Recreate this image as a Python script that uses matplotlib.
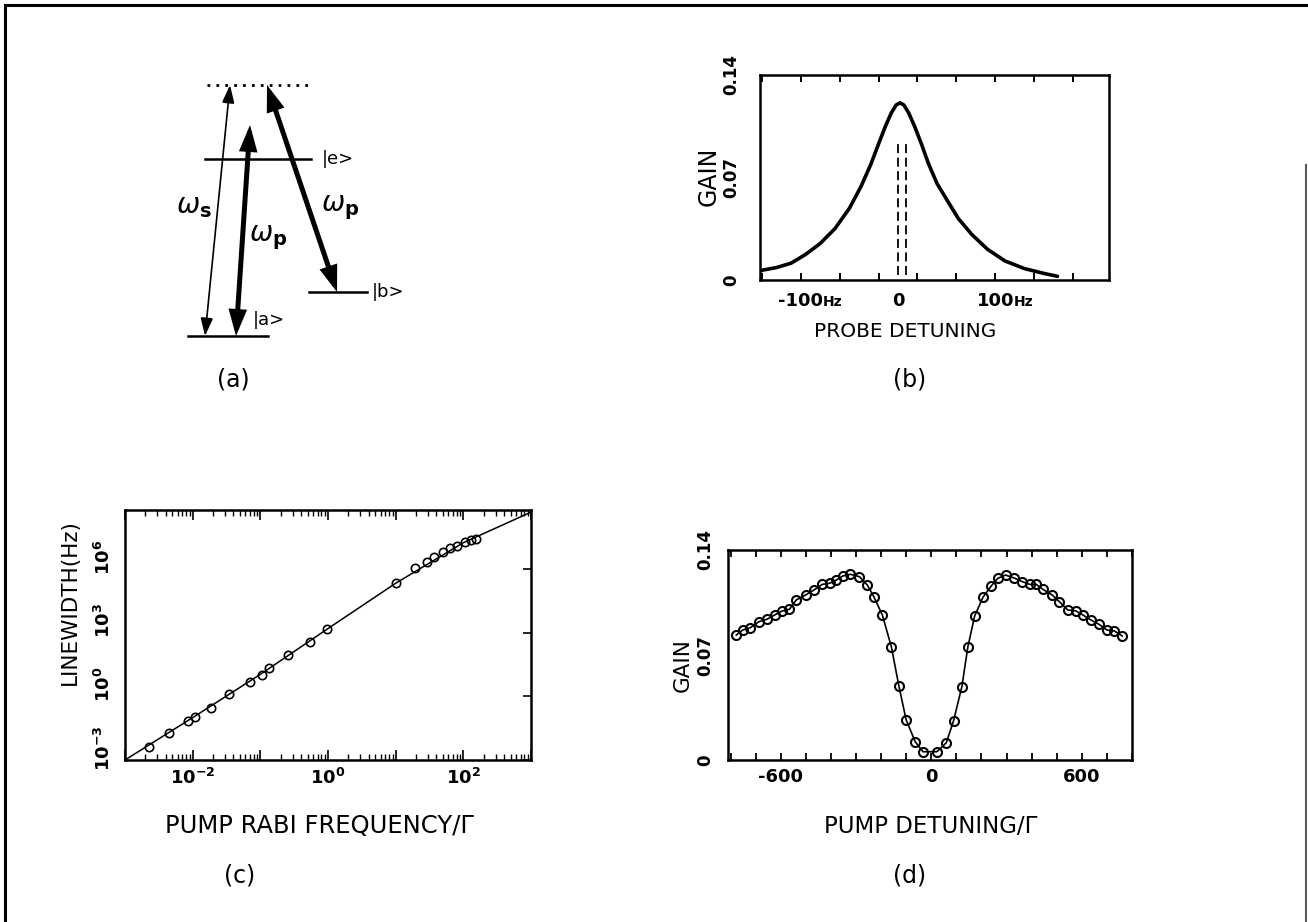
import matplotlib
matplotlib.use("Agg")
import matplotlib.pyplot as plt
from matplotlib.patches import FancyArrowPatch
from matplotlib.ticker import FixedLocator, LogLocator, NullFormatter, FuncFormatter
import matplotlib.transforms as mtransforms

plt.rcParams['font.family'] = ['DejaVu Sans']
plt.rcParams['mathtext.fontset'] = 'dejavusans'

W, H, DPI = 1308, 922, 100

# ---------------- panel (b) data ----------------
probe_detuning = [-142, -125, -110, -95, -80, -65, -50, -38, -28, -20, -13, -7, -2, 2,
                  6, 11, 17, 24, 31, 40, 50, 62, 76, 92, 110, 130, 150, 164]
probe_gain = [0.0064, 0.0085, 0.0115, 0.0175, 0.025, 0.035, 0.049, 0.064, 0.079, 0.093,
              0.105, 0.114, 0.1195, 0.121, 0.1195, 0.114, 0.105, 0.093, 0.080, 0.066,
              0.055, 0.042, 0.031, 0.021, 0.013, 0.0078, 0.0045, 0.0025]
dash_detuning = [-0.3, 7.9]
dash_gain_range = [0.0034, 0.094]
b_xtick_values = [-100, 0, 100]
b_xtick_numbers = ['-100', '0', '100']
b_xtick_units = ['Hz', '', 'Hz']
gain_ticks = [0, 0.07, 0.14]
gain_tick_labels = ['0', '0.07', '0.14']

# ---------------- panel (c) data ----------------
rabi_freq = [2.3e-3, 4.5e-3, 8.5e-3, 1.07e-2, 1.86e-2, 3.47e-2, 7.1e-2, 0.107, 0.135,
             0.257, 0.537, 0.977, 10.0, 19.5, 28.8, 37.2, 50.1, 64.6, 81.3, 104.7,
             128.8, 151.4]
linewidth_hz = [4.3e-3, 1.8e-2, 6.9e-2, 0.11, 0.275, 1.26, 4.8, 10, 21, 89, 370, 1480,
                2.3e5, 1.1e6, 2.2e6, 3.9e6, 6.8e6, 1.0e7, 1.3e7, 2.0e7, 2.4e7, 2.6e7]
fit_rabi = [1e-3, 1e-2, 1e-1, 1, 10, 100, 1000]
fit_linewidth = [1e-3, 0.1, 11, 1600, 2.2e5, 1.8e7, 5e8]
c_ytick_values = [1e-3, 1, 1e3, 1e6]
c_ytick_labels = [r'$\mathbf{10^{-3}}$', r'$\mathbf{10^{0}}$', r'$\mathbf{10^{3}}$', r'$\mathbf{10^{6}}$']
c_xtick_values = [1e-2, 1, 1e2]
c_xtick_labels = [r'$\mathbf{10^{-2}}$', r'$\mathbf{10^{0}}$', r'$\mathbf{10^{2}}$']

# ---------------- panel (d) data ----------------
pump_detuning = [-777, -751, -721, -687, -655, -624, -595, -565, -538, -501, -468, -434,
                 -405, -378, -352, -322, -286, -255, -229, -195, -159, -129, -100, -64,
                 -33, 22, 60, 89, 122, 146, 173, 206, 239, 265, 296, 328, 363, 392, 418,
                 445, 482, 511, 544, 575, 604, 637, 668, 700, 730, 761]
pump_gain = [0.0833, 0.0867, 0.0882, 0.0922, 0.0938, 0.0967, 0.0993, 0.1005, 0.1067,
             0.110, 0.1133, 0.1171, 0.1178, 0.120, 0.1227, 0.1238, 0.1222, 0.1167,
             0.1089, 0.0967, 0.0755, 0.0493, 0.0267, 0.0122, 0.0055, 0.0055, 0.0115,
             0.0262, 0.0489, 0.0755, 0.096, 0.1085, 0.116, 0.1211, 0.1233, 0.1215,
             0.1189, 0.1171, 0.1171, 0.1138, 0.110, 0.1055, 0.100, 0.0995, 0.0967,
             0.0933, 0.0905, 0.0867, 0.086, 0.0827]
d_xtick_values = [-600, 0, 600]
d_xtick_labels = ['-600', '0', '600']

# ---------------- panel (a) schematic ----------------
level_names = ['virtual', 'e', 'b', 'a']
level_y = [85, 159, 292, 336]
level_x0 = [207, 205, 309, 188]
level_x1 = [308, 311, 367, 268]
level_labels = ['', '|e>', '|b>', '|a>']
level_label_xy = [(0, 0), (322, 159), (372, 292), (253, 320)]

fig = plt.figure(figsize=(W / DPI, H / DPI), dpi=DPI)


def rect(x0, y0, x1, y1):
    return [x0 / W, 1 - y1 / H, (x1 - x0) / W, (y1 - y0) / H]


def fx(x):
    return x / W


def fy(y):
    return 1 - y / H


bg = fig.add_axes([0, 0, 1, 1])
bg.set_xlim(0, W)
bg.set_ylim(H, 0)
bg.axis('off')

# outer frame
bg.plot([5, 5], [5, 922], color='k', lw=2.2)
bg.plot([5, 1308], [5, 5], color='k', lw=2.2)
bg.plot([1306, 1306], [165, 922], color='0.35', lw=1.5)

# energy levels
for name, y, x0, x1, lab, (lx, ly) in zip(level_names, level_y, level_x0, level_x1,
                                           level_labels, level_label_xy):
    if name == 'virtual':
        bg.plot([x0, x1], [y, y], color='k', lw=2.0, linestyle=(0, (1, 2.2)))
    else:
        bg.plot([x0, x1], [y, y], color='k', lw=1.8)
        bg.text(lx, ly, lab, fontsize=13, ha='left', va='center')

arrows = [((230, 85), (205, 336), 1.2, 0.9), ((250, 125), (236, 336), 3.6, 1.0),
          ((267, 85), (337, 292), 3.6, 1.0)]
for (pa, pb, lw, hs) in arrows:
    ar = FancyArrowPatch(pa, pb, arrowstyle='<|-|>,head_length=1.1,head_width=0.38',
                         mutation_scale=11 * hs, lw=lw, color='k', shrinkA=0, shrinkB=0,
                         joinstyle='miter')
    bg.add_patch(ar)
bg.text(194, 206, r'$\omega_{\mathbf{s}}$', fontsize=20, ha='center', va='center')
bg.text(268, 238, r'$\omega_{\mathbf{p}}$', fontsize=20, ha='center', va='center')
bg.text(340, 208, r'$\omega_{\mathbf{p}}$', fontsize=20, ha='center', va='center')

# ---------------- panel (b) ----------------
axb = fig.add_axes(rect(760, 75, 1109, 280))
axb.plot(probe_detuning, probe_gain, color='k', lw=2.6, solid_capstyle='round',
         solid_joinstyle='round')
for xd in dash_detuning:
    axb.plot([xd, xd], dash_gain_range, color='k', lw=1.3, dashes=(5, 2.5))
axb.set_xlim(-142, 217)
axb.set_ylim(0, 0.14)
axb.xaxis.set_major_locator(FixedLocator(list(range(-140, 220, 40))))
axb.tick_params(axis='x', direction='in', top=True, bottom=True, length=5, width=1.4,
                labelbottom=False)
axb.set_yticks(gain_ticks)
axb.set_yticklabels(gain_tick_labels, rotation=90, fontsize=12, fontweight='bold', va='center')
axb.tick_params(axis='y', length=0, pad=14)
for s in axb.spines.values():
    s.set_linewidth(1.8)
for v, num, unit in zip(b_xtick_values, b_xtick_numbers, b_xtick_units):
    axb.annotate(num, xy=(v, 0), xycoords=('data', 'axes fraction'), xytext=(0, -9),
                 textcoords='offset points', ha='center', va='top', fontsize=13,
                 fontweight='bold')
    if unit:
        off = 16 if num.startswith('-') else 13
        axb.annotate(unit, xy=(v, 0), xycoords=('data', 'axes fraction'),
                     xytext=(off, -10.5), textcoords='offset points', ha='left', va='top',
                     fontsize=10, fontweight='bold')
fig.text(fx(709), fy(176), 'GAIN', rotation=90, fontsize=17, ha='center', va='center')
fig.text(fx(905), fy(331), 'PROBE DETUNING', fontsize=14.5, ha='center', va='center')

# ---------------- panel (c) ----------------
axc = fig.add_axes(rect(125, 510, 531, 760))
axc.set_xscale('log')
axc.set_yscale('log')
axc.plot(fit_rabi, fit_linewidth, color='k', lw=1.1)
axc.plot(rabi_freq, linewidth_hz, 'o', mfc='none', mec='k', ms=6, mew=1.2)
axc.set_xlim(1e-3, 1e3)
axc.set_ylim(1e-3, 10 ** 8.8)
axc.xaxis.set_major_locator(LogLocator(base=10, numticks=20))
axc.xaxis.set_minor_locator(LogLocator(base=10, subs=range(2, 10), numticks=20))
axc.xaxis.set_minor_formatter(NullFormatter())
xl = dict(zip(c_xtick_values, c_xtick_labels))


def xfmt(v, pos):
    for k, lab in xl.items():
        if abs(v - k) / k < 1e-6:
            return lab
    return ''


axc.xaxis.set_major_formatter(FuncFormatter(xfmt))
axc.tick_params(axis='x', which='major', direction='in', top=True, bottom=True, length=7,
                width=1.2, labelsize=13, pad=6)
axc.tick_params(axis='x', which='minor', direction='in', top=True, bottom=True, length=4,
                width=1.0)
axc.set_yticks(c_ytick_values)
axc.set_yticklabels(c_ytick_labels, rotation=90, fontsize=13, va='center')
axc.yaxis.set_minor_locator(FixedLocator([]))
axc.tick_params(axis='y', which='major', direction='in', left=False, right=True, length=6,
                width=1.2, pad=8)
for lab in axc.get_yticklabels():
    lab.set_transform(lab.get_transform() +
                      mtransforms.ScaledTranslation(0, 0.12, fig.dpi_scale_trans))
for s in axc.spines.values():
    s.set_linewidth(1.8)
fig.text(fx(70), fy(602), 'LINEWIDTH(Hz)', rotation=90, fontsize=15.5, ha='center', va='center')
fig.text(fx(319), fy(826), 'PUMP RABI FREQUENCY/\u0393', fontsize=17.5, ha='center', va='center')

# ---------------- panel (d) ----------------
axd = fig.add_axes(rect(728, 550, 1132, 760))
axd.plot(pump_detuning, pump_gain, color='k', lw=1.2)
axd.plot(pump_detuning, pump_gain, 'o', mfc='none', mec='k', ms=6.5, mew=1.5)
axd.set_xlim(-810, 800)
axd.set_ylim(0, 0.14)
axd.xaxis.set_major_locator(FixedLocator(list(range(-800, 801, 100))))
dl = dict(zip(d_xtick_values, d_xtick_labels))
axd.xaxis.set_major_formatter(FuncFormatter(lambda v, p: dl.get(int(round(v)), '')))
axd.tick_params(axis='x', direction='in', top=True, bottom=True, length=5, width=1.3,
                labelsize=13, pad=6)
for lab in axd.get_xticklabels():
    lab.set_fontweight('bold')
axd.set_yticks(gain_ticks)
axd.set_yticklabels(gain_tick_labels, rotation=90, fontsize=12, fontweight='bold', va='center')
axd.tick_params(axis='y', length=0, pad=10)
for s in axd.spines.values():
    s.set_linewidth(1.8)
fig.text(fx(683), fy(665), 'GAIN', rotation=90, fontsize=15.5, ha='center', va='center')
fig.text(fx(931), fy(826), 'PUMP DETUNING/\u0393', fontsize=16.5, ha='center', va='center')

# panel letters
for txt, (px, py) in zip(['(a)', '(b)', '(c)', '(d)'],
                         [(233, 380), (910, 380), (240, 875), (910, 875)]):
    fig.text(fx(px), fy(py), txt, fontsize=17, ha='center', va='center')

fig.savefig('out.png', dpi=DPI)
